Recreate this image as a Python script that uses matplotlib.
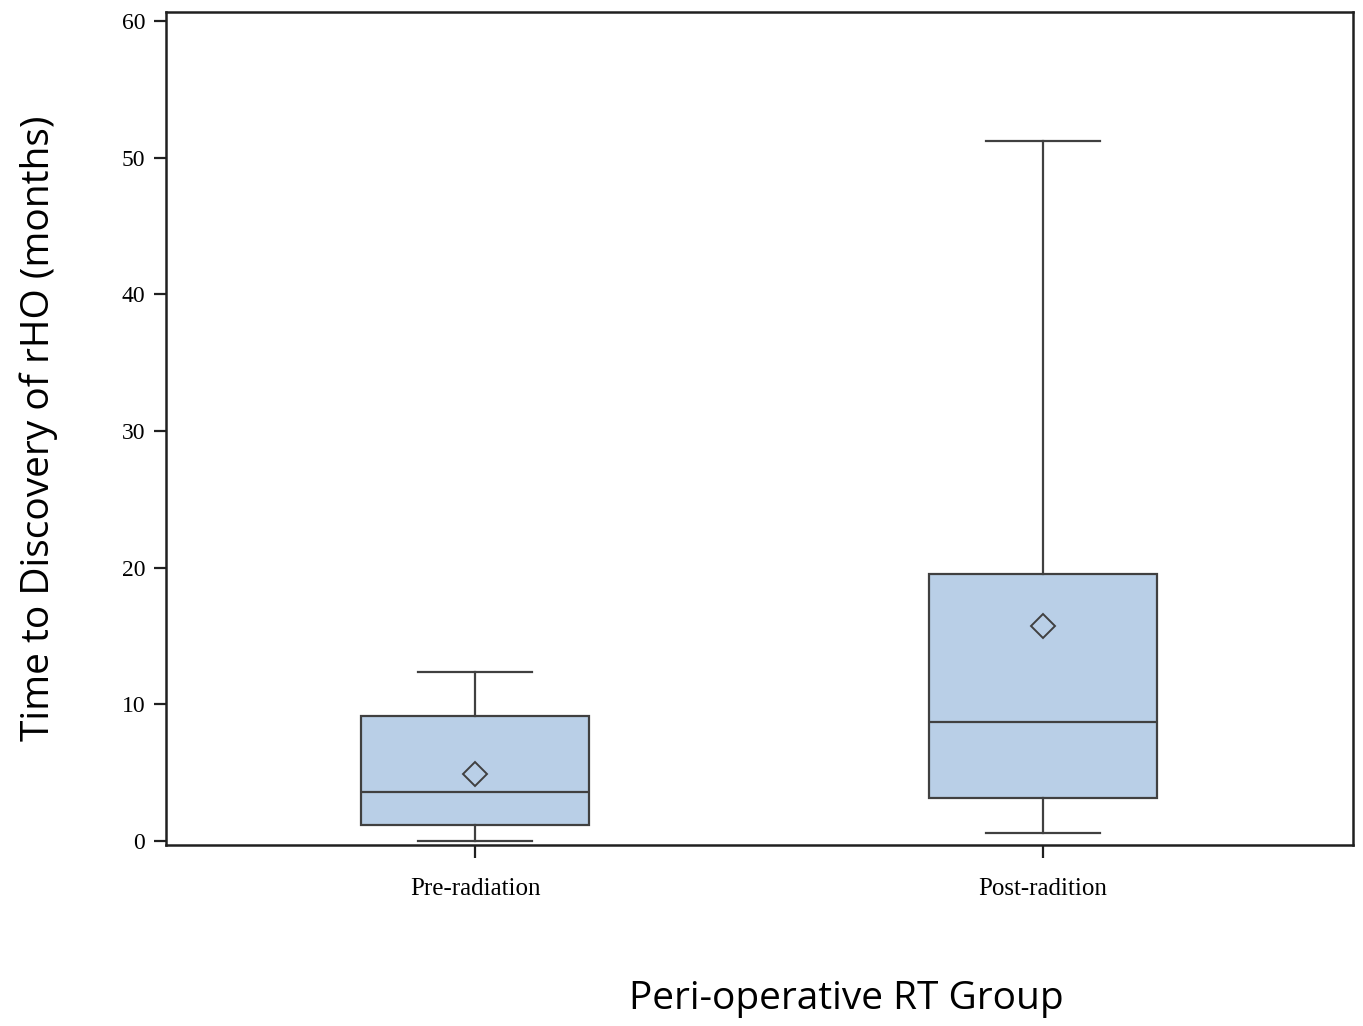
import matplotlib
matplotlib.use("Agg")
import matplotlib.pyplot as plt

# Summary statistics per group (months)
groups = ["Pre-radiation", "Post-radition"]
whisker_low = [0.0, 0.6]
q1 = [1.2, 3.15]
median = [3.6, 8.7]
q3 = [9.15, 19.55]
whisker_high = [12.35, 51.2]
mean = [4.9, 15.75]
y_ticks = [0, 10, 20, 30, 40, 50, 60]

stats = []
for i, g in enumerate(groups):
    stats.append(dict(label=g, whislo=whisker_low[i], q1=q1[i], med=median[i],
                      q3=q3[i], whishi=whisker_high[i], mean=mean[i], fliers=[]))

fig = plt.figure(figsize=(13.63, 10.26), dpi=100)
ax = fig.add_axes([0.1218, 0.1764, 0.8709, 0.8119])

edge = "#404040"
ax.bxp(stats, positions=[1, 2], widths=0.4, patch_artist=True, showmeans=True,
       boxprops=dict(facecolor="#B9CFE7", edgecolor=edge, linewidth=1.6),
       medianprops=dict(color=edge, linewidth=1.6),
       whiskerprops=dict(color=edge, linewidth=1.6),
       capprops=dict(color=edge, linewidth=1.6),
       capwidths=0.2,
       meanprops=dict(marker="D", markerfacecolor="none", markeredgecolor=edge,
                      markersize=12, markeredgewidth=1.4))

ax.set_xlim(0.456, 2.546)
ax.set_ylim(-0.3, 60.66)
ax.set_yticks(y_ticks)
ax.set_yticklabels([str(t) for t in y_ticks], family="Liberation Serif", fontsize=17)
ax.set_xticks([1, 2])
ax.set_xticklabels(groups, family="Liberation Serif", fontsize=18)
ax.tick_params(axis="both", direction="out", length=9, width=1.6, color="#202020")
ax.tick_params(axis="x", pad=15)
ax.tick_params(axis="y", pad=6)

for s in ax.spines.values():
    s.set_linewidth(1.8)
    s.set_color("#202020")

ax.set_ylabel("Time to Discovery of rHO (months)", family="Open Sans", fontsize=28, labelpad=46)
fig.text(0.6206, 0.026, "Peri-operative RT Group", family="Open Sans", fontsize=28,
         ha="center", va="center")

fig.savefig("out.png", dpi=100, facecolor="white")
